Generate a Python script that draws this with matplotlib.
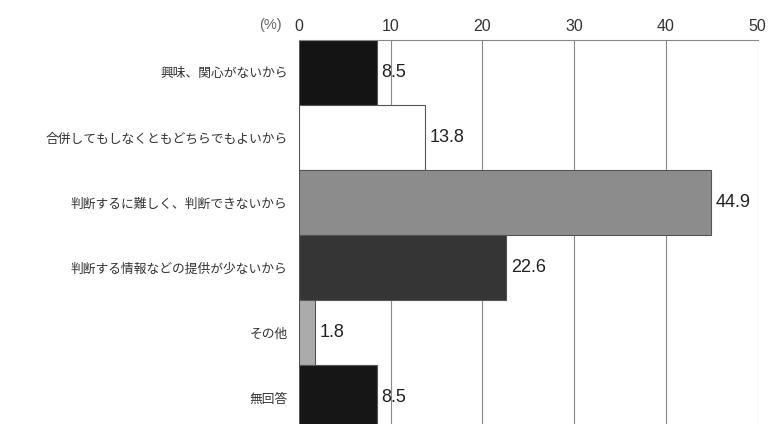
import matplotlib.pyplot as plt

plt.rcParams['font.family'] = ['Liberation Sans', 'Noto Sans CJK JP', 'DejaVu Sans']

# data
categories = [
    "興味、関心がないから",
    "合併してもしなくともどちらでもよいから",
    "判断するに難しく、判断できないから",
    "判断する情報などの提供が少ないから",
    "その他",
    "無回答",
]
values = [8.5, 13.8, 44.9, 22.6, 1.8, 8.5]
bar_colors = ["#141414", "#ffffff", "#8c8c8c", "#353535", "#ababab", "#161616"]
xticks = [0, 10, 20, 30, 40, 50]

fig = plt.figure(figsize=(7.7, 4.24), dpi=100)
ax = fig.add_axes([0.388, -0.0142, 0.596, 0.92])

ypos = list(range(len(categories)))
ax.barh(ypos, values, height=1.0, color=bar_colors,
        edgecolor="#555555", linewidth=0.8, zorder=2)

for y, v in zip(ypos, values):
    ax.text(v + 0.5, y, f"{v:.1f}", va="center", ha="left",
            fontsize=13, color="#222222", zorder=3)

ax.set_xlim(0, 50)
ax.set_ylim(5.5, -0.5)
ax.set_xticks(xticks)
ax.xaxis.tick_top()
ax.tick_params(axis="x", length=0, pad=4, labelsize=11.5, labelcolor="#333333")
ax.set_yticks(ypos)
ax.set_yticklabels(categories, family=['Noto Sans CJK JP', 'DejaVu Sans'],
                   fontsize=9.2, color="#333333")
ax.tick_params(axis="y", length=0, pad=8)

ax.grid(axis="x", color="#888888", linewidth=0.8, zorder=1)
for s in ["left", "bottom", "right"]:
    ax.spines[s].set_visible(False)
ax.spines["top"].set_color("#888888")
ax.spines["top"].set_linewidth(0.8)

fig.text(0.351, 0.941, "(%)", fontsize=10.5, color="#666666",
         ha="center", va="center")

fig.savefig("out.png", dpi=100)
